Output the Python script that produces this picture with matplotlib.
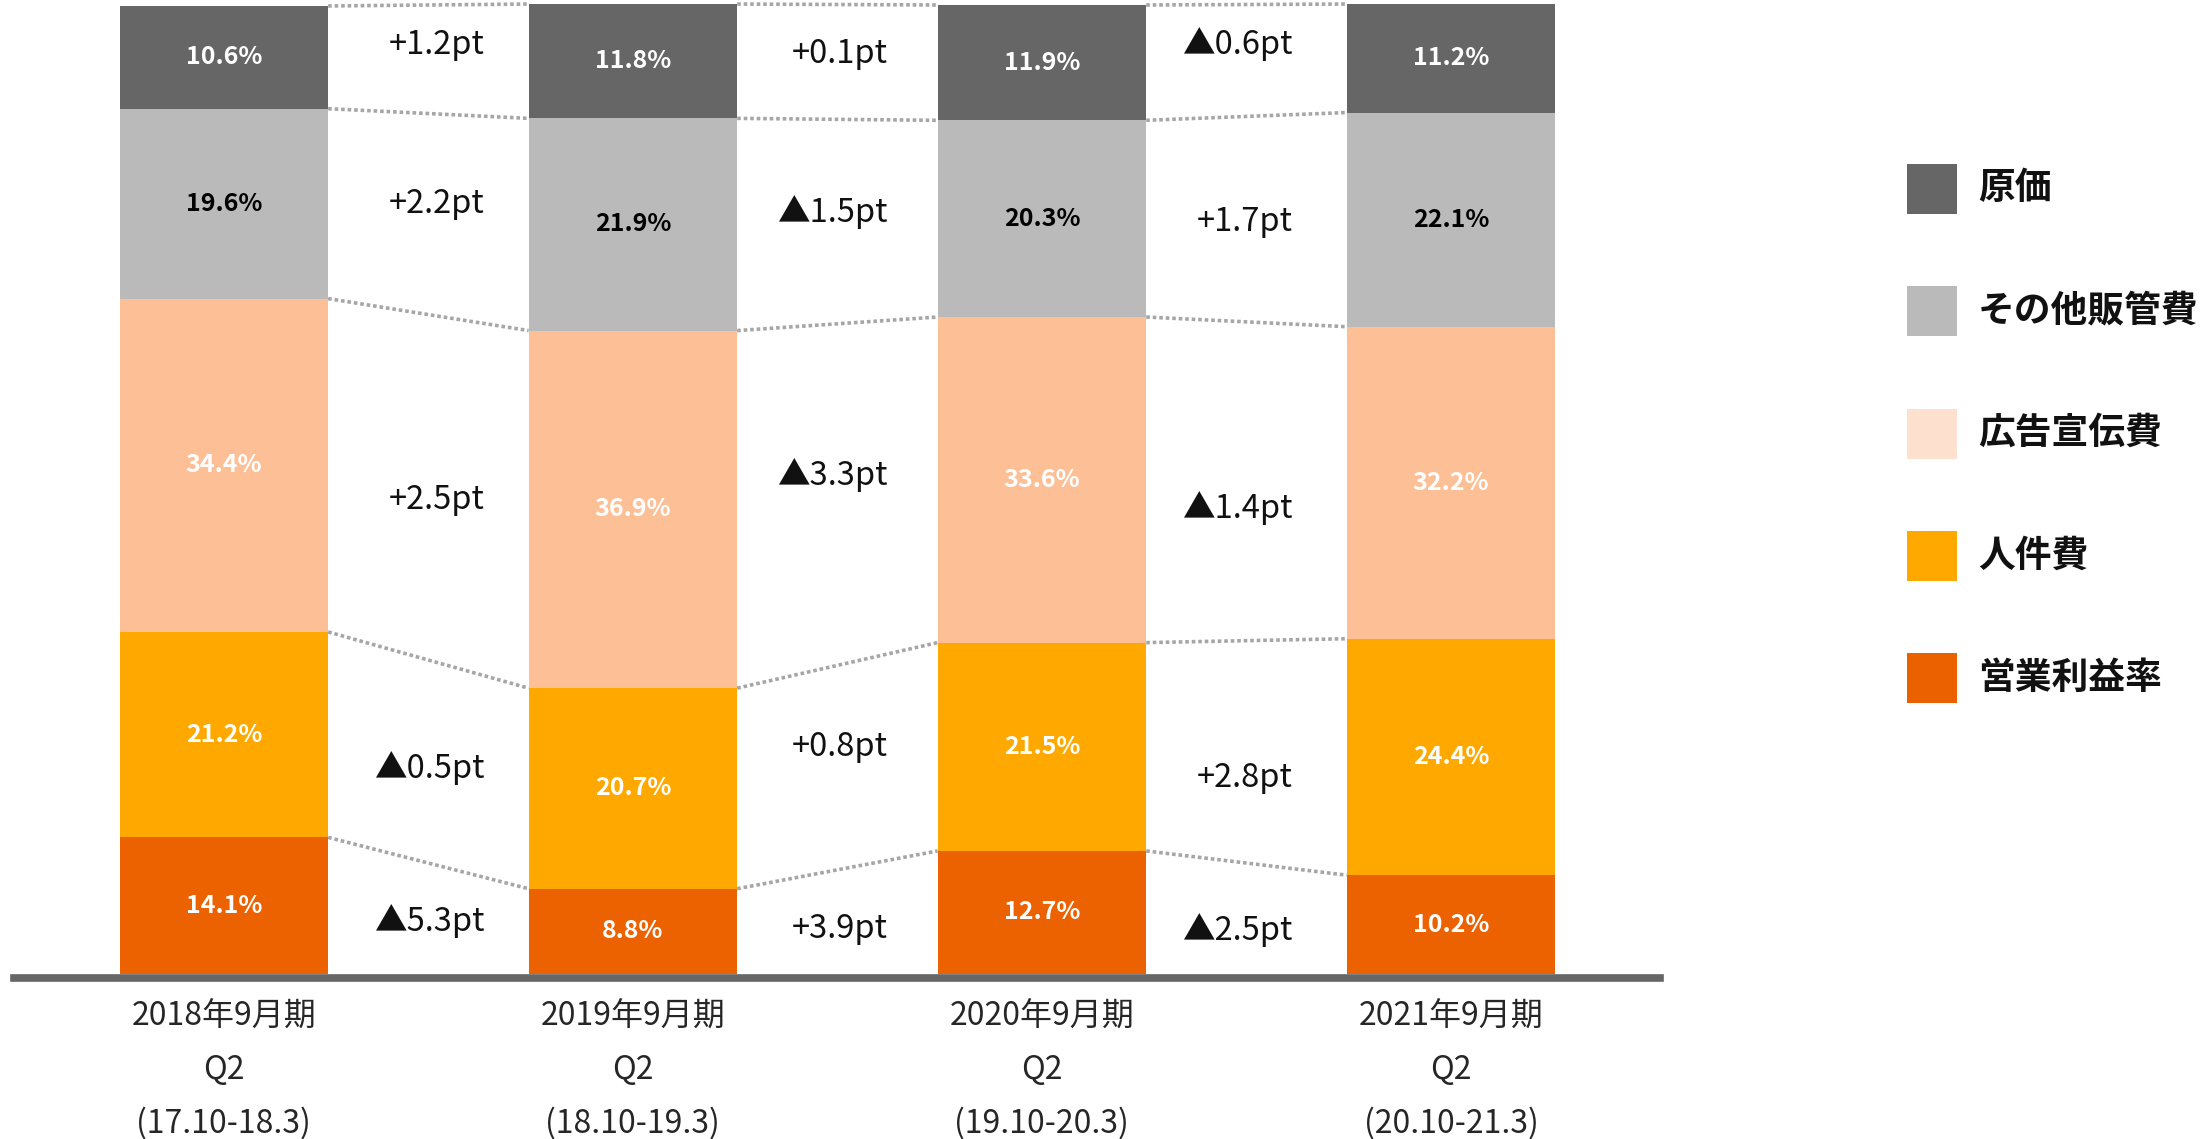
import matplotlib
matplotlib.use("Agg")
import matplotlib.pyplot as plt
from matplotlib.patches import Rectangle
import numpy as np

plt.rcParams['font.family'] = ['Noto Sans CJK JP', 'DejaVu Sans']

# ---- data ----
periods = ["2018年9月期\nQ2\n(17.10-18.3)", "2019年9月期\nQ2\n(18.10-19.3)",
           "2020年9月期\nQ2\n(19.10-20.3)", "2021年9月期\nQ2\n(20.10-21.3)"]
# stacked bottom -> top
series_names = ["営業利益率", "人件費", "広告宣伝費", "その他販管費", "原価"]
op_margin   = [14.1, 8.8, 12.7, 10.2]
personnel   = [21.2, 20.7, 21.5, 24.4]
advertising = [34.4, 36.9, 33.6, 32.2]
other_sga   = [19.6, 21.9, 20.3, 22.1]
cost        = [10.6, 11.8, 11.9, 11.2]
series = [op_margin, personnel, advertising, other_sga, cost]

# year-over-year change in points, as printed (negative shown with ▲)
op_margin_chg   = [-5.3, 3.9, -2.5]
personnel_chg   = [-0.5, 0.8, 2.8]
advertising_chg = [2.5, -3.3, -1.4]
other_sga_chg   = [2.2, -1.5, 1.7]
cost_chg        = [1.2, 0.1, -0.6]
changes = [op_margin_chg, personnel_chg, advertising_chg, other_sga_chg, cost_chg]

# ---- style / layout ----
bar_colors    = ["#EC6100", "#FFA900", "#FDBF96", "#BABABA", "#666666"]
legend_colors = ["#EB6100", "#FFA800", "#FDE0CD", "#BABABA", "#666666"]
label_colors  = ["white", "white", "white", "black", "white"]
# vertical nudges (points) of the change labels, per series and gap
change_nudge = [[-2, -5, -8], [-5, 15, -19], [-9, 14, -19], [7, 7, -2], [10, 6, 12]]
change_x = [0.637, 0.622, 0.613]   # right edge of change labels, relative to left bar

W, H = 2211, 1139
fig = plt.figure(figsize=(W / 100, H / 100), dpi=100)
ax = fig.add_axes([14 / W, (H - 974) / H, (1660 - 14) / W, 969 / H])
ax.patch.set_alpha(0)
for s in ["top", "left", "right"]:
    ax.spines[s].set_visible(False)
ax.spines["bottom"].set_position(("outward", 2.8))
ax.spines["bottom"].set_color("#666666")
ax.spines["bottom"].set_linewidth(5.5)

x = np.arange(len(periods))
width = 0.51
bottoms = np.zeros(len(periods))
bounds = []
centers_all = []
for vals, c, lc in zip(series, bar_colors, label_colors):
    vals = np.array(vals)
    ax.bar(x, vals, width, bottom=bottoms, color=c, linewidth=0, clip_on=False, zorder=2)
    for xi, b, v in zip(x, bottoms, vals):
        ax.text(xi, b + v / 2, f"{v:.1f}%", ha="center", va="center",
                color=lc, fontsize=18, fontweight="bold", zorder=4)
    centers_all.append(bottoms + vals / 2)
    bottoms = bottoms + vals
    bounds.append(bottoms.copy())

# dotted connector lines
for b in bounds:
    for i in range(len(x) - 1):
        ax.plot([x[i] + width / 2, x[i + 1] - width / 2], [b[i], b[i + 1]],
                color="#A6A6A6", linewidth=2.6, linestyle=(0, (1, 0.8)),
                dash_capstyle="butt", clip_on=False, zorder=1)

# change labels
for centers, chg, nud in zip(centers_all, changes, change_nudge):
    for i, d in enumerate(chg):
        txt = f"+{d:.1f}pt" if d >= 0 else f"▲{abs(d):.1f}pt"
        ax.annotate(txt, xy=(x[i] + change_x[i], (centers[i] + centers[i + 1]) / 2),
                    xytext=(0, nud[i]), textcoords="offset points",
                    ha="right", va="center", fontsize=23.5, color="#111111", zorder=4)

ax.set_xlim(-0.513, 3.511)
ax.set_ylim(0, 100)
ax.set_yticks([])
ax.set_xticks(x)
ax.set_xticklabels(periods, fontsize=23, color="#262626", linespacing=1.83)
ax.tick_params(axis="x", length=0, pad=16.5)

# legend (top -> bottom)
leg_x, leg_y0, leg_step, sq = 1907, 164, 122.3, 50
for k, (name, c) in enumerate(zip(series_names[::-1], legend_colors[::-1])):
    top = leg_y0 + k * leg_step
    fig.add_artist(Rectangle((leg_x / W, 1 - (top + sq) / H), sq / W, sq / H,
                             transform=fig.transFigure, facecolor=c, edgecolor="none"))
    fig.text(1978 / W, 1 - (top + sq / 2) / H, name, ha="left", va="center",
             fontsize=26.5, fontweight="bold", color="#111111")

fig.savefig("out.png", dpi=100)
